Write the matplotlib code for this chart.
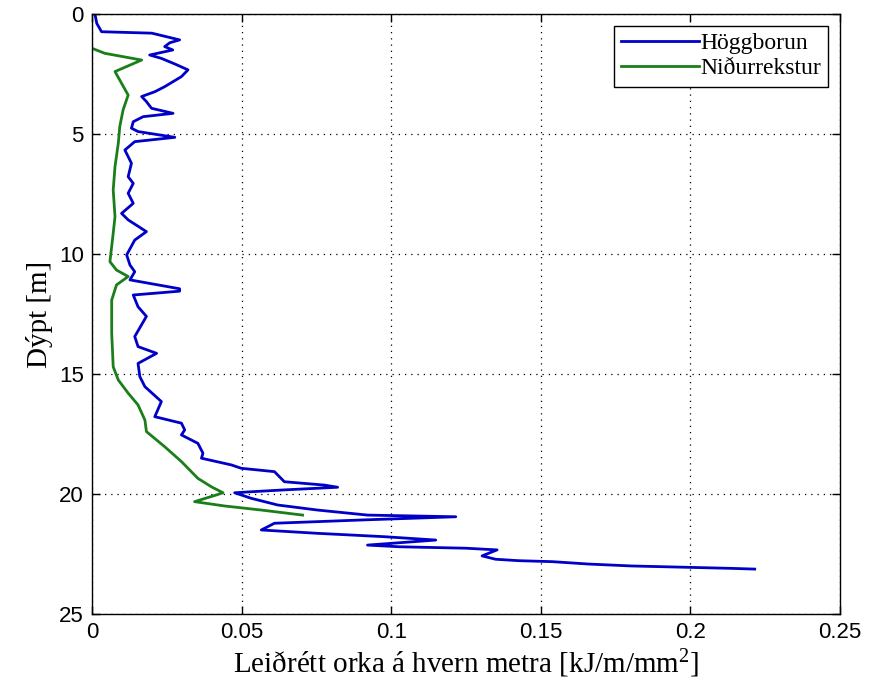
import matplotlib
matplotlib.use("Agg")
import matplotlib.pyplot as plt

# Höggborun (depth [m], energy [kJ/m/mm2])
hogg_depth = [0.0, 0.39, 0.74, 0.8, 1.08, 1.2, 1.36, 1.5, 1.71, 1.85, 2.1, 2.33, 2.61,
              3.03, 3.24, 3.44, 3.65, 3.93, 4.14, 4.28, 4.49, 4.76, 4.9, 5.14, 5.32,
              5.67, 6.22, 6.78, 7.06, 7.47, 7.89, 8.31, 8.58, 9.07, 9.42, 10.04, 10.46,
              10.74, 11.08, 11.45, 11.55, 11.71, 12.2, 12.6, 13.44, 13.86, 14.14, 14.56,
              15.11, 15.53, 16.15, 16.78, 17.05, 17.33, 17.54, 17.89, 18.3, 18.51,
              18.79, 18.93, 19.07, 19.49, 19.63, 19.72, 19.83, 19.9, 19.95, 20.18,
              20.46, 20.67, 20.88, 20.95, 21.08, 21.22, 21.5, 21.64, 21.78, 21.92,
              22.13, 22.2, 22.26, 22.33, 22.58, 22.72, 22.78, 22.82, 22.92, 23.0,
              23.05, 23.1, 23.13]
hogg_energy = [0.001, 0.0016, 0.0032, 0.020, 0.0293, 0.026, 0.0243, 0.027, 0.0193, 0.0232,
               0.028, 0.0321, 0.0299, 0.0243, 0.021, 0.0166, 0.0182, 0.0199, 0.0271,
               0.0171, 0.0138, 0.0132, 0.0154, 0.0277, 0.0143, 0.011, 0.0132, 0.0121,
               0.0138, 0.0121, 0.0138, 0.0099, 0.0121, 0.0182, 0.0143, 0.0116, 0.0127,
               0.0143, 0.0127, 0.0293, 0.0293, 0.0138, 0.0154, 0.0182, 0.0143, 0.0154,
               0.0216, 0.0154, 0.016, 0.0177, 0.0232, 0.021, 0.0299, 0.031, 0.0299,
               0.0354, 0.0371, 0.0366, 0.0466, 0.0499, 0.061, 0.0643, 0.0777, 0.0821,
               0.0643, 0.0543, 0.0477, 0.0532, 0.0621, 0.0754, 0.0921, 0.1216, 0.091,
               0.061, 0.0566, 0.0754, 0.0977, 0.1149, 0.0921, 0.1027, 0.1249, 0.1354,
               0.1304, 0.1349, 0.1427, 0.1538, 0.166, 0.1804, 0.1971, 0.2138, 0.2215]

# Niðurrekstur
nidur_depth = [1.43, 1.64, 1.92, 2.4, 2.89, 3.38, 4.0, 4.69, 5.39, 6.36, 7.33, 8.44,
               9.14, 10.32, 10.67, 10.94, 11.29, 11.92, 13.3, 14.7, 15.25, 15.8, 16.29,
               16.92, 17.4, 18.03, 18.65, 19.35, 19.7, 19.95, 20.04, 20.32, 20.5,
               20.67, 20.88]
nidur_energy = [0.0, 0.0043, 0.0166, 0.0077, 0.0099, 0.0121, 0.0104, 0.0093, 0.0088,
                0.0077, 0.0071, 0.0077, 0.0071, 0.006, 0.0082, 0.0121, 0.0082, 0.0066,
                0.0066, 0.0071, 0.0088, 0.0121, 0.0154, 0.0177, 0.0182, 0.0243, 0.0299,
                0.0354, 0.0399, 0.0438, 0.0416, 0.0343, 0.0443, 0.0566, 0.0704]

xticks = [0, 0.05, 0.1, 0.15, 0.2, 0.25]
xticklabels = ["0", "0.05", "0.1", "0.15", "0.2", "0.25"]
yticks = [0, 5, 10, 15, 20, 25]

tick_font = ["Liberation Sans", "DejaVu Sans"]
label_font = ["Liberation Serif", "DejaVu Serif"]

plt.rcParams["mathtext.fontset"] = "custom"
plt.rcParams["mathtext.rm"] = "Liberation Serif"
plt.rcParams["mathtext.it"] = "Liberation Serif:italic"

fig = plt.figure(figsize=(8.8, 6.88), dpi=100)
ax = fig.add_axes([0.1045, 0.1076, 0.85, 0.8721])

ax.plot(hogg_energy, hogg_depth, color="#0000c8", lw=2.0, label="Höggborun")
ax.plot(nidur_energy, nidur_depth, color="#1a7f1a", lw=2.0, label="Niðurrekstur")

ax.set_xlim(0, 0.25)
ax.set_ylim(25, 0)
ax.set_xticks(xticks)
ax.set_xticklabels(xticklabels)
ax.set_yticks(yticks)
ax.grid(True, color="black", linestyle=(0, (1, 4)), linewidth=0.9)
ax.tick_params(direction="in", top=True, right=True, length=6, width=1,
               labelsize=16, pad=6)
for lab in ax.get_xticklabels() + ax.get_yticklabels():
    lab.set_family(tick_font)
for s in ax.spines.values():
    s.set_linewidth(1.0)

ax.set_xlabel("Leiðrétt orka á hvern metra [kJ/m/mm$\\mathrm{^2}$]", family=label_font,
              fontsize=21, labelpad=3)
ax.set_ylabel("Dýpt [m]", family=label_font, fontsize=21, labelpad=4)

leg = ax.legend(loc="upper right", prop={"family": label_font, "size": 17},
                fancybox=False, framealpha=1, edgecolor="black", handlelength=3.3,
                borderaxespad=0.5, handletextpad=0.05, labelspacing=0.15,
                borderpad=0.3)
leg.get_frame().set_linewidth(1.0)

plt.savefig("out.png", dpi=100)
